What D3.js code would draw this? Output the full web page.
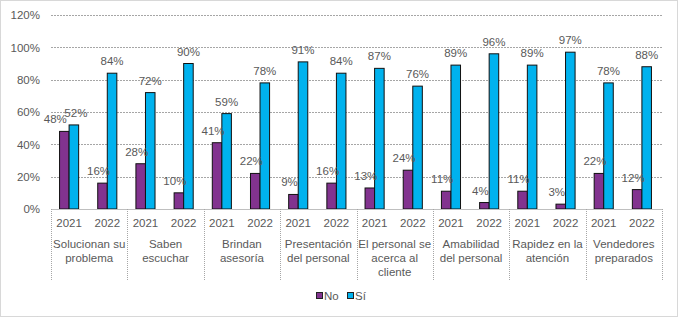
<!DOCTYPE html>
<html>
<head>
<meta charset="utf-8">
<script src="https://cdn.jsdelivr.net/npm/d3@7"></script>
<style>
  body { margin: 0; background: #fff; }
  svg text { font-family: "Liberation Sans", Arial, sans-serif; fill: #595959; }
</style>
</head>
<body>
<svg id="chart" width="678" height="317"></svg>
<script>
const categories = [
  ["Solucionan su", "problema"],
  ["Saben", "escuchar"],
  ["Brindan", "asesoría"],
  ["Presentación", "del personal"],
  ["El personal se", "acerca al", "cliente"],
  ["Amabilidad", "del personal"],
  ["Rapidez en la", "atención"],
  ["Vendedores", "preparados"],
];
const years = ["2021", "2022"];
const seriesNames = ["No", "Sí"];
// values per category: [2021, 2022]
const noValues = [[48, 16], [28, 10], [41, 22], [9, 16], [13, 24], [11, 4], [11, 3], [22, 12]];
const siValues = [[52, 84], [72, 90], [59, 78], [91, 84], [87, 76], [89, 96], [89, 97], [78, 88]];
const yTicks = [0, 20, 40, 60, 80, 100, 120];

const colors = { "No": "#82338f", "Sí": "#00b2ee" };

const width = 678, height = 317;
const plot = { left: 51, right: 662, top: 15, bottom: 209 };
const fontSize = 11.5;

const svg = d3.select("#chart");

// outer border
svg.append("rect")
  .attr("x", 0.5).attr("y", 0.5)
  .attr("width", width - 1).attr("height", height - 1)
  .attr("fill", "none")
  .attr("stroke", "#b0b0b0")
  .attr("stroke-dasharray", "1,1");

const catIdx = categories.map((_, i) => i);
const xCat = d3.scaleBand().domain(catIdx).range([plot.left, plot.right]);
const xYear = d3.scaleBand().domain(years).range([-1, xCat.bandwidth() - 1]);
const xSeries = d3.scaleBand().domain(seriesNames).range([0, xYear.bandwidth()]).paddingInner(0).paddingOuter(1);

const y = d3.scaleLinear().domain([0, 120]).range([plot.bottom, plot.top]);

// gridlines
svg.append("g")
  .selectAll("line")
  .data(yTicks.filter((d) => d > 0))
  .enter()
  .append("line")
  .attr("x1", plot.left).attr("x2", plot.right)
  .attr("y1", (d) => Math.round(y(d)) + 0.5).attr("y2", (d) => Math.round(y(d)) + 0.5)
  .attr("stroke", "#a6a6a6")
  .attr("stroke-dasharray", "2,1");

// y axis labels
const yAxis = svg.append("g")
  .attr("transform", `translate(${plot.left}, 0)`)
  .call(d3.axisLeft(y).tickValues(yTicks).tickFormat((d) => d + "%").tickSize(0).tickPadding(11));
yAxis.select(".domain").remove();
yAxis.selectAll("text").style("font-size", fontSize + "px").attr("fill", "#595959");

// flatten data
const rows = [];
catIdx.forEach((c) => {
  years.forEach((yr, j) => {
    rows.push({ c, yr, series: "No", value: noValues[c][j] });
    rows.push({ c, yr, series: "Sí", value: siValues[c][j] });
  });
});

const xOf = (d) => xCat(d.c) + xYear(d.yr) + xSeries(d.series);

svg.append("g")
  .selectAll("rect")
  .data(rows)
  .enter()
  .append("rect")
  .attr("x", (d) => xOf(d))
  .attr("y", (d) => y(d.value))
  .attr("width", xSeries.bandwidth())
  .attr("height", (d) => y(0) - y(d.value))
  .attr("fill", (d) => colors[d.series])
  .attr("stroke", "#111")
  .attr("stroke-width", 1);

// label nudge: "No" labels sit a bit left; the first pair is crowded
const labelShift = (d) => {
  const first = d.c === 0 && d.yr === "2021";
  if (d.series === "No") return first ? -9 : -4;
  return first ? 2 : 0;
};

// data labels
svg.append("g")
  .selectAll("text")
  .data(rows)
  .enter()
  .append("text")
  .attr("x", (d) => xOf(d) + xSeries.bandwidth() / 2 + labelShift(d))
  .attr("y", (d) => y(d.value) - 8)
  .attr("text-anchor", "middle")
  .style("font-size", fontSize + "px")
  .text((d) => d.value + "%");

// baseline
svg.append("line")
  .attr("x1", plot.left).attr("x2", plot.right)
  .attr("y1", plot.bottom + 0.5).attr("y2", plot.bottom + 0.5)
  .attr("stroke", "#bfbfbf");

// category separators
const bounds = catIdx.map((c) => xCat(c)).concat([plot.right]);
svg.append("g")
  .selectAll("line")
  .data(bounds)
  .enter()
  .append("line")
  .attr("x1", (d) => Math.round(d) + 0.5).attr("x2", (d) => Math.round(d) + 0.5)
  .attr("y1", plot.bottom).attr("y2", 281)
  .attr("stroke", "#a6a6a6")
  .attr("stroke-dasharray", "1,1");

// year labels
const yearLabels = [];
catIdx.forEach((c) => years.forEach((yr) => yearLabels.push({ c, yr })));
svg.append("g")
  .selectAll("text")
  .data(yearLabels)
  .enter()
  .append("text")
  .attr("x", (d) => xCat(d.c) + xYear(d.yr) + xYear.bandwidth() / 2)
  .attr("y", 227)
  .attr("text-anchor", "middle")
  .style("font-size", fontSize + "px")
  .text((d) => d.yr);

// category labels
const catText = svg.append("g")
  .selectAll("text")
  .data(catIdx)
  .enter()
  .append("text")
  .attr("x", (c) => xCat(c) + xCat.bandwidth() / 2)
  .attr("y", 248)
  .attr("text-anchor", "middle")
  .style("font-size", fontSize + "px");
catText.selectAll("tspan")
  .data((c) => categories[c].map((t) => ({ t, x: xCat(c) + xCat.bandwidth() / 2 })))
  .enter()
  .append("tspan")
  .attr("x", (d) => d.x)
  .attr("dy", (d, i) => (i === 0 ? 0 : 14))
  .text((d) => d.t);

// legend
const legend = svg.append("g").attr("transform", "translate(316, 296)");
const legendItems = legend.selectAll("g")
  .data(seriesNames)
  .enter()
  .append("g")
  .attr("transform", (d, i) => `translate(${i * 31}, 0)`);
legendItems.append("rect")
  .attr("x", 0.5).attr("y", -3.5)
  .attr("width", 6).attr("height", 6)
  .attr("fill", (d) => colors[d])
  .attr("stroke", "#222");
legendItems.append("text")
  .attr("x", 8)
  .attr("y", 4)
  .style("font-size", fontSize + "px")
  .text((d) => d);
</script>
</body>
</html>
